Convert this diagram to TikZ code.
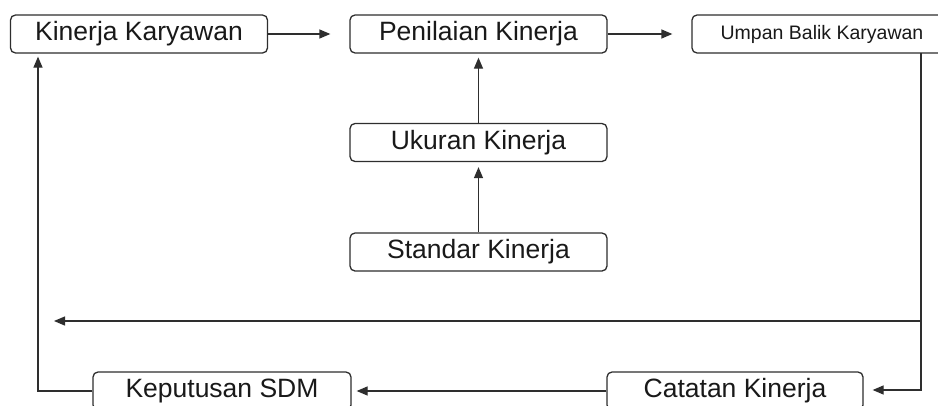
\documentclass[tikz,border=0pt]{standalone}
\usepackage{fontspec}
\setmainfont{Liberation Sans}
\usetikzlibrary{arrows.meta}
\definecolor{ink}{HTML}{2E2E2E}
\tikzset{
  box/.style={draw=ink, line width=1.3pt, rounded corners=5pt, fill=white,
    minimum width=257pt, minimum height=38pt, inner sep=0pt,
    font=\fontsize{26.5}{28}\selectfont, text=black!90},
  smallbox/.style={box, font=\fontsize{19.5}{21}\selectfont},
  conn/.style={draw=ink, line width=1.3pt},
  arr/.style={conn, -{Triangle[length=11pt,width=9pt]}}
}
\begin{document}
\begin{tikzpicture}[x=1pt,y=-1pt]
\useasboundingbox (0,0) rectangle (938,405);
\node[box] (kk) at (139,34) {Kinerja Karyawan};
\node[box] (pk) at (478.5,34) {Penilaian Kinerja};
\node[smallbox, minimum width=260pt] (ub) at (822,34) {Umpan Balik Karyawan};
\node[box] (uk) at (478.5,142.5) {Ukuran Kinerja};
\node[box] (sk) at (478.5,252) {Standar Kinerja};
\node[box, minimum width=258pt] (ks) at (222,391) {Keputusan SDM};
\node[box, minimum width=256pt] (ck) at (735,391) {Catatan Kinerja};
\coordinate (rt) at (921,53);
\coordinate (rb) at (921,390);
\coordinate (rm) at (921,321);
\coordinate (lm) at (54,321);
\coordinate (lb) at (38,391);
\draw[arr, shorten >=19pt] (kk.east) -- (pk.west);
\draw[arr, shorten >=19pt] (pk.east) -- (ub.west);
\draw[arr, shorten >=5pt] (sk.north) -- (uk.south);
\draw[arr, shorten >=4pt] (uk.north) -- (pk.south);
\draw[arr, shorten >=9pt] (rt) -- (rb) -- (ck.east |- rb);
\draw[arr] (rm) -- (lm);
\draw[arr, shorten >=5pt] (ck.west) -- (ks.east);
\draw[arr, shorten >=3pt] (ks.west) -- (lb) -- (lb |- kk.south);
\end{tikzpicture}
\end{document}
